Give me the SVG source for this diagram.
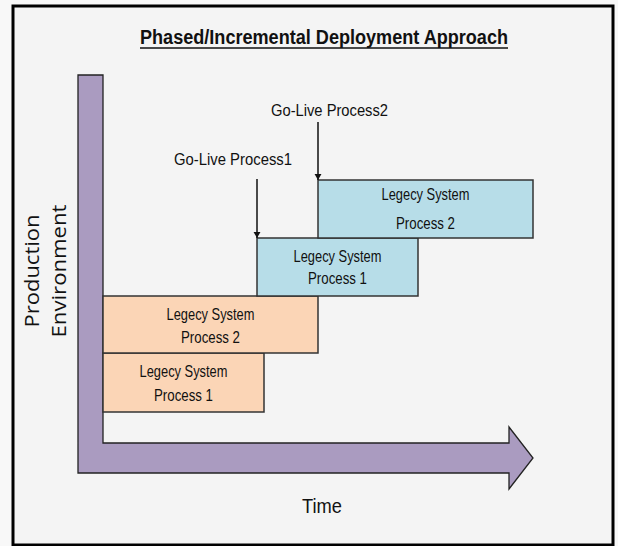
<svg xmlns="http://www.w3.org/2000/svg" width="618" height="546" viewBox="0 0 618 546">
  <style>
    .lbl { font-family: "Liberation Sans", Arial, sans-serif; fill: #111; }
    .box { stroke: #333; stroke-width: 1.5; }
    .legacy { fill: #fbd5b6; }
    .live { fill: #b7dde8; }
    .conn { stroke: #111; stroke-width: 1.5; fill: none; }
    .axis-lbl { font-family: "Open Sans", "Liberation Sans", sans-serif; fill: #111; }
  </style>
  <defs>
    <marker id="tip" viewBox="0 0 10 10" refX="10" refY="5" markerWidth="6.5" markerHeight="7.5" markerUnits="userSpaceOnUse" orient="auto" preserveAspectRatio="none">
      <path d="M0,0 L10,5 L0,10 Z" fill="#111"/>
    </marker>
  </defs>

  <!-- page and frame -->
  <rect x="0" y="0" width="618" height="546" fill="#f8f8f8"/>
  <rect x="13" y="6" width="600" height="539" fill="#f4f4f4" stroke="#000" stroke-width="3"/>

  <!-- title -->
  <g id="title">
    <text class="lbl" x="324" y="44" font-size="20" font-weight="bold" text-anchor="middle" textLength="368" lengthAdjust="spacingAndGlyphs">Phased/Incremental Deployment Approach</text>
    <line x1="140" y1="48" x2="508" y2="48" stroke="#111" stroke-width="1.5"/>
  </g>

  <!-- production axis bending into the time arrow -->
  <g id="axes">
    <polygon points="78,75 103,75 103,443 509,443 509,427 533,458 509,489 509,473 78,473" fill="#aa9bc0" stroke="#222" stroke-width="1.3" stroke-linejoin="miter"/>
    <text class="axis-lbl" transform="translate(39,271) rotate(-90)" font-size="20.5" text-anchor="middle" textLength="113" lengthAdjust="spacingAndGlyphs">Production</text>
    <text class="axis-lbl" transform="translate(66,271) rotate(-90)" font-size="20.5" text-anchor="middle" textLength="133" lengthAdjust="spacingAndGlyphs">Environment</text>
    <text class="lbl" x="322" y="513" font-size="20" text-anchor="middle" textLength="40" lengthAdjust="spacingAndGlyphs">Time</text>
  </g>

  <!-- legacy system blocks -->
  <g id="legacy-p1">
    <rect class="box legacy" x="103" y="353" width="161" height="59"/>
    <text class="lbl" x="183.5" y="377" font-size="16.5" text-anchor="middle" textLength="88" lengthAdjust="spacingAndGlyphs">Legecy System</text>
    <text class="lbl" x="183.5" y="401" font-size="16.5" text-anchor="middle" textLength="59" lengthAdjust="spacingAndGlyphs">Process 1</text>
  </g>
  <g id="legacy-p2">
    <rect class="box legacy" x="103" y="296" width="215" height="57"/>
    <text class="lbl" x="210.5" y="320" font-size="16.5" text-anchor="middle" textLength="88" lengthAdjust="spacingAndGlyphs">Legecy System</text>
    <text class="lbl" x="210.5" y="343" font-size="16.5" text-anchor="middle" textLength="59" lengthAdjust="spacingAndGlyphs">Process 2</text>
  </g>
  <g id="live-p1">
    <rect class="box live" x="257" y="238" width="161" height="58"/>
    <text class="lbl" x="337.5" y="262" font-size="16.5" text-anchor="middle" textLength="88" lengthAdjust="spacingAndGlyphs">Legecy System</text>
    <text class="lbl" x="337.5" y="284" font-size="16.5" text-anchor="middle" textLength="59" lengthAdjust="spacingAndGlyphs">Process 1</text>
  </g>
  <g id="live-p2">
    <rect class="box live" x="318" y="180" width="215" height="58"/>
    <text class="lbl" x="425.5" y="200" font-size="16.5" text-anchor="middle" textLength="88" lengthAdjust="spacingAndGlyphs">Legecy System</text>
    <text class="lbl" x="425.5" y="229" font-size="16.5" text-anchor="middle" textLength="59" lengthAdjust="spacingAndGlyphs">Process 2</text>
  </g>

  <!-- go-live labels -->
  <g id="golive-1">
    <text class="lbl" x="233" y="165" font-size="17" text-anchor="middle" textLength="118" lengthAdjust="spacingAndGlyphs">Go-Live Process1</text>
  </g>
  <g id="golive-2">
    <text class="lbl" x="329.5" y="116" font-size="17" text-anchor="middle" textLength="117" lengthAdjust="spacingAndGlyphs">Go-Live Process2</text>
  </g>

  <!-- connectors -->
  <g id="connectors">
    <line class="conn" x1="257" y1="179" x2="257" y2="238" marker-end="url(#tip)"/>
    <line class="conn" x1="318" y1="122" x2="318" y2="180" marker-end="url(#tip)"/>
  </g>
</svg>
